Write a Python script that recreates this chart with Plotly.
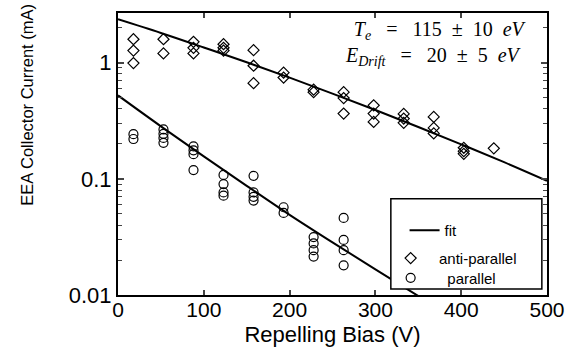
import plotly.graph_objects as go

# ---- data ----
bias_anti = [18, 18, 18, 53, 53, 88, 88, 88, 123, 123, 123, 158, 158, 158,
             193, 193, 228, 228, 263, 263, 263, 298, 298, 298, 333, 333, 333,
             368, 368, 368, 403, 403, 403, 438]
current_anti = [1.59, 1.27, 0.99, 1.59, 1.20, 1.51, 1.34, 1.20, 1.44, 1.34, 1.27,
                1.28, 0.94, 0.665, 0.82, 0.744, 0.585, 0.557, 0.557, 0.495, 0.364,
                0.429, 0.364, 0.309, 0.362, 0.33, 0.303, 0.341, 0.274, 0.246,
                0.185, 0.173, 0.164, 0.183]

bias_par = [18, 18, 53, 53, 53, 53, 88, 88, 88, 88, 123, 123, 123, 123,
            158, 158, 158, 158, 193, 193, 228, 228, 228, 228, 263, 263, 263, 263]
current_par = [0.242, 0.22, 0.266, 0.244, 0.225, 0.204, 0.19, 0.176, 0.163, 0.119,
               0.108, 0.09, 0.0764, 0.0716, 0.106, 0.0764, 0.07, 0.065,
               0.0569, 0.0509, 0.0315, 0.0278, 0.0243, 0.0214,
               0.0461, 0.0298, 0.0243, 0.018]

fit_bias_anti = [0, 50, 100, 150, 200, 250, 300, 350, 400, 450, 500]
fit_anti = [2.36, 1.80, 1.35, 1.006, 0.742, 0.541, 0.391, 0.279, 0.198, 0.139, 0.096]
fit_bias_par = [0, 50, 100, 150, 200, 250, 300, 350]
fit_par = [0.522, 0.283, 0.156, 0.087, 0.049, 0.0284, 0.0166, 0.0098]

y_tickvals = [0.01, 0.1, 1]
y_ticktext = ["0.01", "0.1", "1"]
y_minor = [0.02, 0.03, 0.04, 0.05, 0.06, 0.07, 0.08, 0.09,
           0.2, 0.3, 0.4, 0.5, 0.6, 0.7, 0.8, 0.9, 2]
x_tickvals = [0, 100, 200, 300, 400, 500]

SANS = "Liberation Sans, Arial, sans-serif"
SERIF = "Liberation Serif, Times New Roman, serif"
LEG_FONT = dict(family=SANS, size=15, color="black")
NB = "\u00a0"
SP = NB + " " + NB      # wide gap, as in the reference typesetting
SP1 = NB + " "

fig = go.Figure()
fig.add_trace(go.Scatter(x=fit_bias_anti, y=fit_anti, mode="lines", name="fit",
                         line=dict(color="black", width=2, shape="spline"),
                         legend="legend"))
fig.add_trace(go.Scatter(x=fit_bias_par, y=fit_par, mode="lines", name="fit",
                         line=dict(color="black", width=2, shape="spline"),
                         showlegend=False))
fig.add_trace(go.Scatter(x=bias_anti, y=current_anti, mode="markers",
                         name=NB * 2 + "anti-parallel",
                         marker=dict(symbol="diamond-open", size=8.5, color="black",
                                     line=dict(width=1.2)),
                         legend="legend2"))
fig.add_trace(go.Scatter(x=bias_par, y=current_par, mode="markers",
                         name=NB * 4 + "parallel",
                         marker=dict(symbol="circle-open", size=9, color="black",
                                     line=dict(width=1.2)),
                         legend="legend3"))

# legend box
fig.add_shape(type="rect", xref="paper", yref="paper",
              x0=0.636, x1=0.988, y0=0.021, y1=0.3415,
              fillcolor="white", line=dict(color="black", width=1.5), layer="above")

line1 = ("<i>T</i><sub><i>e</i></sub>" + SP + "=" + SP + "115" + SP1 + "±" + SP1
         + "10" + SP1 + "<i>eV</i>")
line2 = ("<i>E</i><sub><i>Drift</i></sub>" + SP + "=" + SP + "20" + SP1 + "±" + SP1
         + "5" + SP1 + "<i>eV</i>" + NB)
fig.add_annotation(xref="paper", yref="paper", x=0.958, y=0.893, xanchor="right",
                   yanchor="middle", showarrow=False, align="right",
                   text=line1 + "<br>" + line2,
                   font=dict(family=SERIF, size=20, color="black"))
# y-axis title (placed as in the reference, above the plot centre)
fig.add_annotation(xref="paper", yref="paper", x=-0.212, y=0.675, xanchor="center",
                   yanchor="middle", showarrow=False, textangle=-90,
                   text="EEA Collector Current (mA)",
                   font=dict(family=SANS, size=16.5, color="black"))

leg_common = dict(xanchor="left", yanchor="middle", bgcolor="rgba(0,0,0,0)",
                  borderwidth=0, font=LEG_FONT, itemwidth=30)

fig.update_layout(
    width=579, height=355,
    margin=dict(l=118, r=32, t=11, b=60),
    paper_bgcolor="white", plot_bgcolor="white",
    font=dict(family=SANS, color="black"),
    showlegend=True,
    legend=dict(x=0.668, y=0.229, **leg_common),
    legend2=dict(x=0.6355, y=0.13, **leg_common),
    legend3=dict(x=0.6355, y=0.06, **leg_common),
    xaxis=dict(range=[0, 500], tickvals=x_tickvals, ticks="inside", ticklen=5,
               tickwidth=1.5, showline=True, linecolor="black", linewidth=2,
               mirror="ticks", showgrid=False, zeroline=False,
               tickfont=dict(size=21), ticklabelstandoff=-5,
               title=dict(text="Repelling Bias (V)", font=dict(size=22), standoff=6)),
    yaxis=dict(type="log", range=[-2, 0.427], tickvals=y_tickvals, ticktext=y_ticktext,
               ticks="inside", ticklen=6, tickwidth=1.5, showline=True,
               linecolor="black", linewidth=2, mirror="ticks", showgrid=False,
               zeroline=False, tickfont=dict(size=22),
               minor=dict(tickvals=y_minor, ticks="inside", ticklen=4, tickwidth=1.2,
                          showgrid=False)),
)

fig.write_html("out.html")
